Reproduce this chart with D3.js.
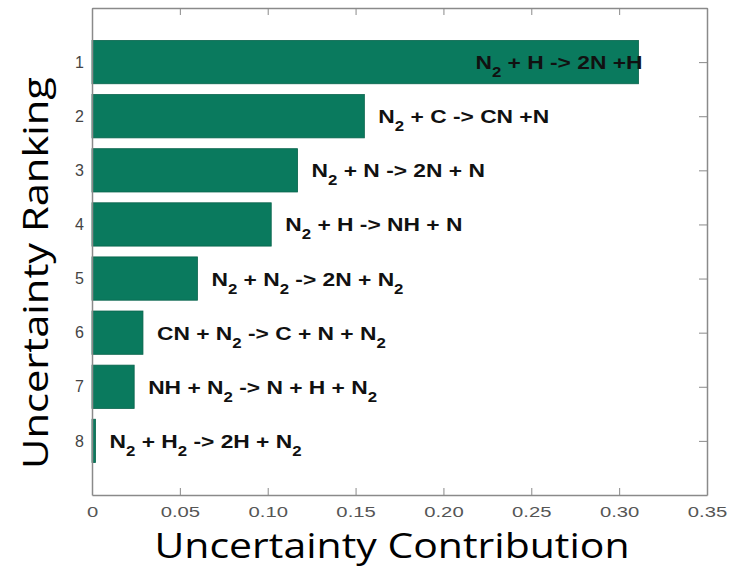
<!DOCTYPE html>
<html>
<head>
<meta charset="utf-8">
<script src="https://cdn.jsdelivr.net/npm/d3@7"></script>
<style>
  html, body { margin: 0; padding: 0; background: #fff; }
  svg { display: block; }
</style>
</head>
<body>
<svg id="chart" width="733" height="569"></svg>
<script>
// Ranked reaction contributions to the overall uncertainty
const ranks = [1, 2, 3, 4, 5, 6, 7, 8];
const contributions = [0.311, 0.155, 0.117, 0.102, 0.060, 0.029, 0.024, 0.002];
// "_2" marks a subscript 2
const reactions = [
  "N_2 + H -> 2N +H",
  "N_2 + C -> CN +N",
  "N_2 + N -> 2N + N",
  "N_2 + H -> NH + N",
  "N_2 + N_2 -> 2N + N_2",
  "CN + N_2 -> C + N + N_2",
  "NH + N_2 -> N + H + N_2",
  "N_2 + H_2 -> 2H + N_2"
];
const xTicks = [0, 0.05, 0.10, 0.15, 0.20, 0.25, 0.30, 0.35];
const xTickLabels = ["0", "0.05", "0.10", "0.15", "0.20", "0.25", "0.30", "0.35"];

const svg = d3.select("#chart");
const plotLeft = 92, plotRight = 707, plotTop = 8, plotBottom = 495;

const x = d3.scaleLinear().domain([0, 0.35]).range([plotLeft, plotRight]);
const y = d3.scaleLinear().domain([0, 9]).range([plotTop, plotBottom]);
const barH = (y(1) - y(0)) * 0.8;

const green = "#0a7a5e";
const frame = "#8a8a8a";

// bars
svg.append("g").selectAll("rect")
  .data(ranks)
  .join("rect")
  .attr("x", x(0))
  .attr("y", (d) => y(d) - barH / 2)
  .attr("width", (d, i) => x(contributions[i]) - x(0))
  .attr("height", barH)
  .attr("fill", green)
  .attr("stroke", "#07634b")
  .attr("stroke-width", 0.8);

// axes
const fmt = (d) => xTickLabels[xTicks.indexOf(d)];
const xAxis = svg.append("g")
  .attr("transform", `translate(0,${plotBottom})`)
  .call(d3.axisBottom(x).tickValues(xTicks).tickFormat(fmt).tickSizeInner(-7).tickSizeOuter(0).tickPadding(11));
const xTop = svg.append("g")
  .attr("transform", `translate(0,${plotTop})`)
  .call(d3.axisTop(x).tickValues(xTicks).tickFormat("").tickSizeInner(-7).tickSizeOuter(0));
const yAxis = svg.append("g")
  .attr("transform", `translate(${plotLeft},0)`)
  .call(d3.axisLeft(y).tickValues(ranks).tickFormat(d3.format("d")).tickSizeInner(0).tickSizeOuter(0).tickPadding(8));
const yRight = svg.append("g")
  .attr("transform", `translate(${plotRight},0)`)
  .call(d3.axisRight(y).tickValues(ranks).tickFormat("").tickSizeInner(-8).tickSizeOuter(0));

[xAxis, xTop, yAxis, yRight].forEach((g) => {
  g.select(".domain").attr("stroke", frame).attr("stroke-width", 1.5);
  g.selectAll(".tick line").attr("stroke", frame).attr("stroke-width", 1);
});
xAxis.selectAll(".tick text")
  .attr("font-family", "Liberation Sans, Arial, sans-serif")
  .attr("font-size", 15)
  .attr("fill", "#555")
  .each(function () {
    const w = this.getComputedTextLength();
    d3.select(this).attr("textLength", w * 1.35).attr("lengthAdjust", "spacingAndGlyphs");
  });
yAxis.selectAll(".tick text")
  .attr("font-family", "Liberation Sans, Arial, sans-serif")
  .attr("font-size", 16)
  .attr("fill", "#444");

// reaction labels beside (or inside) each bar
const labels = svg.append("g")
  .attr("font-family", "Liberation Sans, Arial, sans-serif")
  .attr("font-weight", "bold")
  .attr("font-size", 19)
  .attr("fill", "#111");

const stretch = 1.2;
reactions.forEach((r, i) => {
  const end = x(contributions[i]);
  const inside = i === 0;
  const g = labels.append("g")
    .attr("transform", `translate(${inside ? end + 4 : end + 14},${y(ranks[i]) + 7}) scale(${stretch},1)`);
  const t = g.append("text")
    .attr("text-anchor", inside ? "end" : "start");
  const parts = r.split(/(_2)/);
  let sub = false;
  parts.forEach((p) => {
    if (p === "_2") {
      t.append("tspan").attr("dy", 8).attr("font-size", 14).text("2");
      sub = true;
    } else if (p.length) {
      t.append("tspan").attr("dy", sub ? -8 : 0).text(p);
      sub = false;
    }
  });
});

// axis titles
svg.append("text")
  .attr("x", 392)
  .attr("y", 558)
  .attr("text-anchor", "middle")
  .attr("font-family", "Open Sans, sans-serif")
  .attr("font-size", 35)
  .attr("fill", "#000")
  .attr("textLength", 475)
  .attr("lengthAdjust", "spacingAndGlyphs")
  .text("Uncertainty Contribution");

svg.append("text")
  .attr("transform", "translate(48,273) rotate(-90)")
  .attr("text-anchor", "middle")
  .attr("font-family", "Open Sans, sans-serif")
  .attr("font-size", 35)
  .attr("fill", "#000")
  .attr("textLength", 392)
  .attr("lengthAdjust", "spacingAndGlyphs")
  .text("Uncertainty Ranking");
</script>
</body>
</html>
